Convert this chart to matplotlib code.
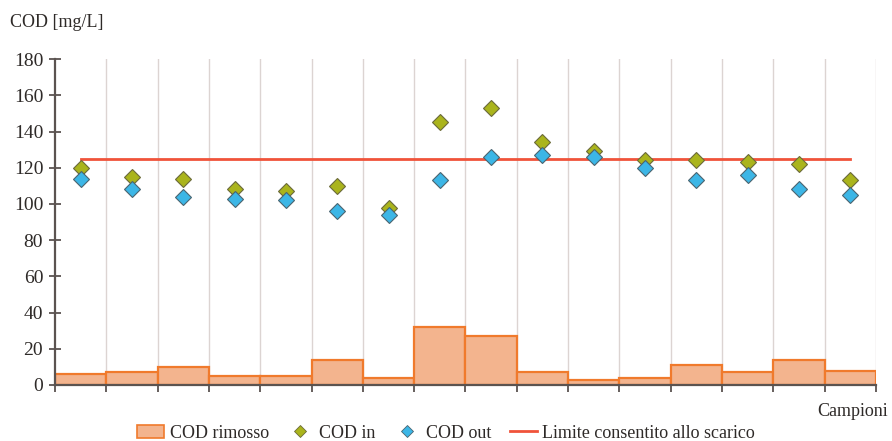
import numpy as np
import matplotlib
matplotlib.use("Agg")
import matplotlib.pyplot as plt
from matplotlib.patches import Patch
from matplotlib.lines import Line2D

plt.rcParams['font.family'] = ['Liberation Serif', 'DejaVu Serif']

# COD measurements per sample [mg/L]
cod_in = [120, 115, 114, 108, 107, 110, 98, 145, 153, 134, 129, 124, 124, 123, 122, 113]
cod_out = [114, 108, 104, 103, 102, 96, 94, 113, 126, 127, 126, 120, 113, 116, 108, 105]
cod_rimosso = [6, 7, 10, 5, 5, 14, 4, 32, 27, 7, 3, 4, 11, 7, 14, 8]
limite = 125.0  # discharge limit

n = len(cod_in)
x = np.arange(n) + 0.5

fig = plt.figure(figsize=(8.92, 4.41), dpi=100)
ax = fig.add_axes([0.0617, 0.127, 0.9203, 0.739])

axis_col = '#5b5350'

# vertical separators between samples
for b in range(1, n + 1):
    ax.axvline(b, color='#dcd4d2', lw=1.0, zorder=0)

ax.bar(x, cod_rimosso, width=1.0, color='#f3b48e', edgecolor='#f07a2c', lw=1.6, zorder=2)
ax.plot(x, [limite] * n, color='#f0533a', lw=2.0, zorder=3)
ax.plot(x, cod_in, 'D', ms=8, color='#aab41c', mec='#6b6a3a', mew=0.8, zorder=4)
ax.plot(x, cod_out, 'D', ms=8, color='#3cb6e6', mec='#4a6470', mew=0.8, zorder=4)

ax.set_xlim(0, n)
ax.set_ylim(0, 180)
ax.set_yticks(np.arange(0, 181, 20))
ax.set_xticks(np.arange(0, n + 1))
ax.set_xticklabels([])
ax.tick_params(axis='y', direction='inout', length=9, width=1.3, color=axis_col,
               labelsize=14, labelcolor='#2e2a28', pad=4)
ax.tick_params(axis='x', direction='out', length=5, width=1.3, color=axis_col)
for s in ['top', 'right']:
    ax.spines[s].set_visible(False)
for s in ['left', 'bottom']:
    ax.spines[s].set_color(axis_col)
    ax.spines[s].set_linewidth(1.6)

fig.text(0.011, 0.948, 'COD [mg/L]', fontsize=13, color='#2e2a28', va='center')
fig.text(0.995, 0.068, 'Campioni', fontsize=13, color='#2e2a28', ha='right', va='center')

handles = [
    Patch(facecolor='#f3b48e', edgecolor='#f07a2c', lw=1.2),
    Line2D([], [], ls='none', marker='D', ms=6, color='#aab41c', mec='#6b6a3a', mew=0.6),
    Line2D([], [], ls='none', marker='D', ms=6, color='#3cb6e6', mec='#4a6470', mew=0.6),
    Line2D([], [], color='#f0533a', lw=2.0),
]
labels = ['COD rimosso', 'COD in', 'COD out', 'Limite consentito allo scarico']
fig.legend(handles, labels, loc='center', bbox_to_anchor=(0.5, 0.018), ncol=4,
           frameon=False, fontsize=13, handlelength=1.5, handletextpad=0.3,
           columnspacing=1.0, borderaxespad=0, labelcolor='#2e2a28')

fig.savefig('out.png', dpi=100)
